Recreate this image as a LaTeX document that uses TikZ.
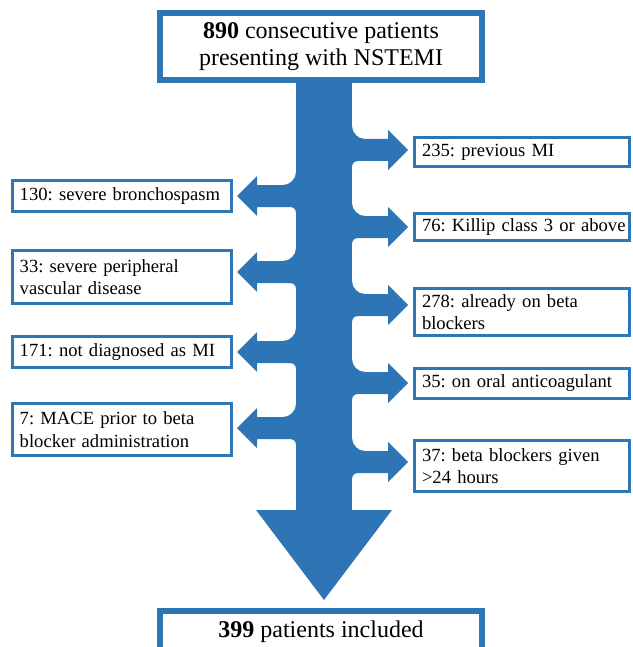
\documentclass[tikz,border=0pt]{standalone}
\usepackage{fontspec}
\setmainfont{Liberation Serif}
\definecolor{flowblue}{HTML}{2E75B6}
\frenchspacing
\hyphenpenalty=10000
\hfuzz=20pt
\newcommand\rbranch[1]{%
  \fill[flowblue] (340,#1-24) -- (352,#1-24) .. controls (352,#1-17) and (358,#1-11) .. (365,#1-11)
    -- (388,#1-11) -- (388,#1-20) -- (408,#1) -- (388,#1+20) -- (388,#1+11) -- (358,#1+11)
    .. controls (354.5,#1+11) and (352,#1+13.5) .. (352,#1+17) -- (340,#1+17) -- cycle;}
\newcommand\lbranch[1]{%
  \fill[flowblue] (308,#1-24) -- (296,#1-24) .. controls (296,#1-17) and (290,#1-11) .. (283,#1-11)
    -- (257,#1-11) -- (257,#1-20) -- (237,#1) -- (257,#1+20) -- (257,#1+11) -- (290,#1+11)
    .. controls (293.5,#1+11) and (296,#1+13.5) .. (296,#1+17) -- (308,#1+17) -- cycle;}
\begin{document}
\begin{tikzpicture}[x=1pt,y=-1pt,
  bigbox/.style={draw=flowblue, line width=6pt, fill=white, align=center,
    font=\fontsize{24}{27}\selectfont, inner sep=2pt, minimum width=322pt},
  rbox/.style={draw=flowblue, line width=3pt, fill=white, align=left,
    font=\fontsize{18.6}{22.5}\selectfont, inner xsep=7.5pt, inner ysep=2pt, text width=200pt},
  lbox/.style={rbox, text width=204.5pt}]
\useasboundingbox (0,0) rectangle (632,647);
\clip (0,0) rectangle (632,647);
% main shaft and head
\fill[flowblue] (296,82) rectangle (352,511);
\fill[flowblue] (256,510) -- (392,510) -- (324,600) -- cycle;
% branches
\rbranch{150}\rbranch{227}\rbranch{305}\rbranch{383}\rbranch{462}
\lbranch{196}\lbranch{272}\lbranch{352}\lbranch{428}
% boxes
\node[bigbox, minimum height=67pt] (top) at (321,46.5) {\textbf{890} consecutive patients\\presenting with NSTEMI};
\node[bigbox, minimum height=42pt] (bottom) at (321,632) {\textbf{399} patients included};
\node[rbox, minimum height=29pt] (r1) at (522,152) {235: previous MI};
\node[rbox, minimum height=27pt] (r2) at (522,227) {\mbox{76: Killip class 3 or above}};
\node[rbox, minimum height=47pt] (r3) at (522,312) {278: already on beta\\blockers};
\node[rbox, minimum height=30pt] (r4) at (522,383.5) {35: on oral anticoagulant};
\node[rbox, minimum height=51pt] (r5) at (522,466) {37: beta blockers given\\>24 hours};
\node[lbox, minimum height=31pt] (l1) at (122,196) {130: severe bronchospasm};
\node[lbox, minimum height=53pt] (l2) at (122,277) {33: severe peripheral\\vascular disease};
\node[lbox, minimum height=31pt] (l3) at (122,352) {171: not diagnosed as MI};
\node[lbox, minimum height=52pt] (l4) at (122,429.5) {7: MACE prior to beta\\blocker administration};
\end{tikzpicture}
\end{document}
